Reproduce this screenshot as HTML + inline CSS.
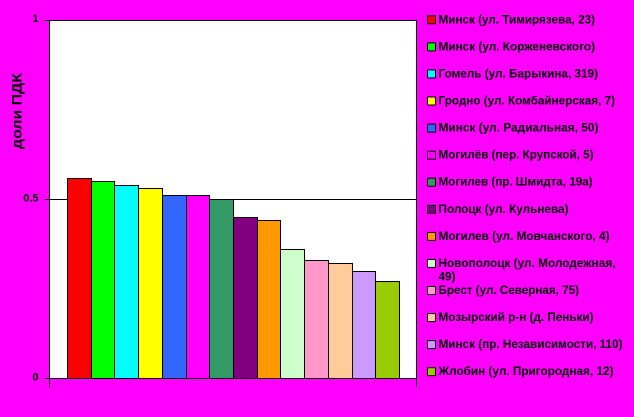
<!DOCTYPE html>
<html>
<head>
<meta charset="utf-8">
<style>
html,body{margin:0;padding:0;background:#FF00FF;}
svg{display:block;}
text{font-family:"Liberation Sans","DejaVu Sans",sans-serif;font-weight:bold;fill:#000;}
</style>
</head>
<body>
<svg width="634" height="417" viewBox="0 0 634 417" xmlns="http://www.w3.org/2000/svg">
  <rect x="0" y="0" width="634" height="417" fill="#FF00FF"/>
  <!-- plot area -->
  <rect x="49.5" y="20.5" width="367" height="358" fill="#FFFFFF" stroke="none"/>
  <!-- gridline 0.5 -->
  <line x1="49.5" y1="199.5" x2="416.5" y2="199.5" stroke="#000" stroke-width="1"/>
  <!-- bars -->
  <g stroke="#000" stroke-width="1">
    <rect x="67.5" y="178.5" width="24" height="200" fill="#FF0000"/>
    <rect x="91.5" y="181.5" width="23" height="197" fill="#00FF00"/>
    <rect x="114.5" y="185.5" width="24" height="193" fill="#00FFFF"/>
    <rect x="138.5" y="188.5" width="24" height="190" fill="#FFFF00"/>
    <rect x="162.5" y="195.5" width="24" height="183" fill="#3366FF"/>
    <rect x="186.5" y="195.5" width="23" height="183" fill="#FF00FF"/>
    <rect x="209.5" y="199.5" width="24" height="179" fill="#339966"/>
    <rect x="233.5" y="217.5" width="24" height="161" fill="#800080"/>
    <rect x="257.5" y="220.5" width="23" height="158" fill="#FF9900"/>
    <rect x="280.5" y="249.5" width="24" height="129" fill="#CCFFCC"/>
    <rect x="304.5" y="260.5" width="24" height="118" fill="#FF99CC"/>
    <rect x="328.5" y="263.5" width="24" height="115" fill="#FFCC99"/>
    <rect x="352.5" y="271.5" width="23" height="107" fill="#CC99FF"/>
    <rect x="375.5" y="281.5" width="24" height="97" fill="#99CC00"/>
  </g>
  <!-- frame -->
  <rect x="49.5" y="20.5" width="367" height="358" fill="none" stroke="#000" stroke-width="1"/>
  <!-- y ticks -->
  <g stroke="#000" stroke-width="1">
    <line x1="45" y1="20.5" x2="49.5" y2="20.5"/>
    <line x1="45" y1="199.5" x2="49.5" y2="199.5"/>
    <line x1="45" y1="378.5" x2="49.5" y2="378.5"/>
    <line x1="49.5" y1="378.5" x2="49.5" y2="387"/>
    <line x1="416.5" y1="378.5" x2="416.5" y2="387"/>
  </g>
  <!-- y tick labels -->
  <g font-size="11" text-anchor="end">
    <text x="38.5" y="22">1</text>
    <text x="38.5" y="201.5">0.5</text>
    <text x="38.5" y="380.5">0</text>
  </g>
  <!-- y title -->
  <text x="0" y="0" font-size="13.5" text-anchor="middle" textLength="76" lengthAdjust="spacingAndGlyphs" transform="translate(21.5,111) rotate(-90)">доли ПДК</text>
  <!-- legend -->
  <g stroke="#000" stroke-width="1">
    <rect x="427.5" y="15.8" width="8" height="8" fill="#FF0000"/>
    <rect x="427.5" y="42.9" width="8" height="8" fill="#00FF00"/>
    <rect x="427.5" y="69.9" width="8" height="8" fill="#00FFFF"/>
    <rect x="427.5" y="97.0" width="8" height="8" fill="#FFFF00"/>
    <rect x="427.5" y="124.1" width="8" height="8" fill="#3366FF"/>
    <rect x="427.5" y="151.2" width="8" height="8" fill="#FF00FF"/>
    <rect x="427.5" y="178.2" width="8" height="8" fill="#339966"/>
    <rect x="427.5" y="205.3" width="8" height="8" fill="#800080"/>
    <rect x="427.5" y="232.4" width="8" height="8" fill="#FF9900"/>
    <rect x="427.5" y="259.4" width="8" height="8" fill="#CCFFCC"/>
    <rect x="427.5" y="286.5" width="8" height="8" fill="#FF99CC"/>
    <rect x="427.5" y="313.6" width="8" height="8" fill="#FFCC99"/>
    <rect x="427.5" y="340.6" width="8" height="8" fill="#CC99FF"/>
    <rect x="427.5" y="367.7" width="8" height="8" fill="#99CC00"/>
  </g>
  <g font-size="11.5">
    <text x="438.5" y="23.3" textLength="156.5" lengthAdjust="spacingAndGlyphs">Минск (ул. Тимирязева, 23)</text>
    <text x="438.5" y="50.4" textLength="156.5" lengthAdjust="spacingAndGlyphs">Минск (ул. Корженевского)</text>
    <text x="438.5" y="77.4" textLength="159.5" lengthAdjust="spacingAndGlyphs">Гомель (ул. Барыкина, 319)</text>
    <text x="438.5" y="104.5" textLength="176.5" lengthAdjust="spacingAndGlyphs">Гродно (ул. Комбайнерская, 7)</text>
    <text x="438.5" y="131.6" textLength="160" lengthAdjust="spacingAndGlyphs">Минск (ул. Радиальная, 50)</text>
    <text x="438.5" y="158.7" textLength="155" lengthAdjust="spacingAndGlyphs">Могилёв (пер. Крупской, 5)</text>
    <text x="438.5" y="185.7" textLength="154" lengthAdjust="spacingAndGlyphs">Могилев (пр. Шмидта, 19а)</text>
    <text x="438.5" y="212.8" textLength="130" lengthAdjust="spacingAndGlyphs">Полоцк (ул. Кульнева)</text>
    <text x="438.5" y="239.9" textLength="171" lengthAdjust="spacingAndGlyphs">Могилев (ул. Мовчанского, 4)</text>
    <text x="438.5" y="266.9" textLength="177" lengthAdjust="spacingAndGlyphs">Новополоцк (ул. Молодежная,</text>
    <text x="438.5" y="280.6" textLength="17" lengthAdjust="spacingAndGlyphs">49)</text>
    <text x="438.5" y="294.0" textLength="140.5" lengthAdjust="spacingAndGlyphs">Брест (ул. Северная, 75)</text>
    <text x="438.5" y="321.1" textLength="155" lengthAdjust="spacingAndGlyphs">Мозырский р-н (д. Пеньки)</text>
    <text x="438.5" y="348.1" textLength="184" lengthAdjust="spacingAndGlyphs">Минск (пр. Независимости, 110)</text>
    <text x="438.5" y="375.2" textLength="175" lengthAdjust="spacingAndGlyphs">Жлобин (ул. Пригородная, 12)</text>
  </g>
</svg>
</body>
</html>
